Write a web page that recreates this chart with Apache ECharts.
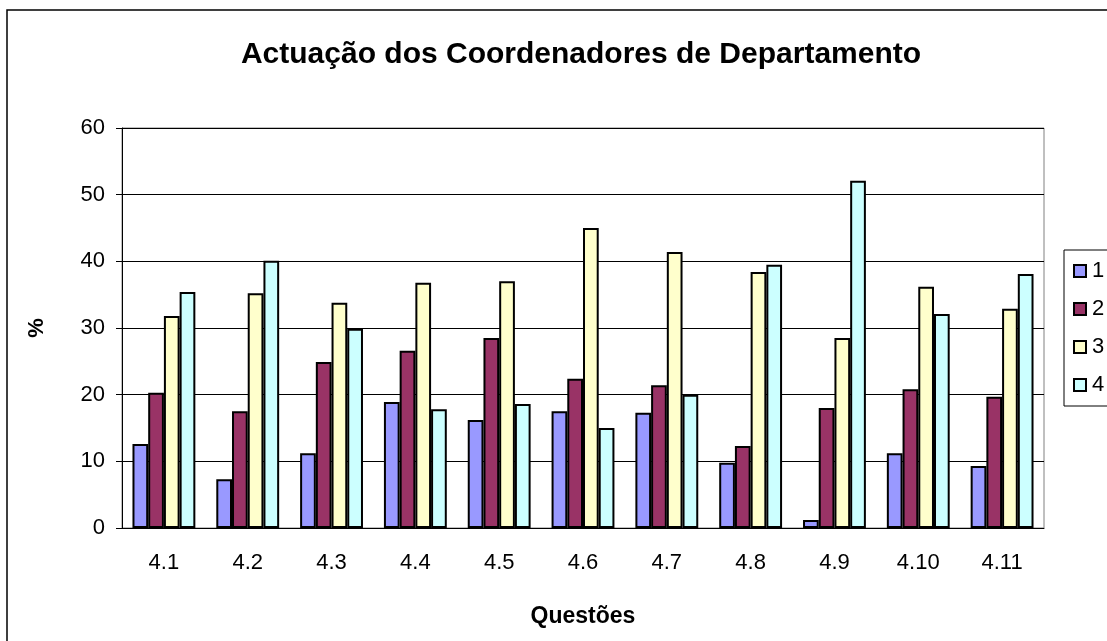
<!DOCTYPE html>
<html>
<head>
<meta charset="utf-8">
<script src="https://cdn.jsdelivr.net/npm/echarts@6/dist/echarts.min.js"></script>
<style>
  html, body { margin: 0; padding: 0; background: #fff; }
  #chart { width: 1107px; height: 641px; }
</style>
</head>
<body>
<div id="chart"></div>
<script>
  const categories = ['4.1', '4.2', '4.3', '4.4', '4.5', '4.6', '4.7', '4.8', '4.9', '4.10', '4.11']
  const serie1 = [12.6, 7.3, 11.2, 18.9, 16.2, 17.5, 17.3, 9.8, 1.2, 11.2, 9.3]
  const serie2 = [20.3, 17.5, 24.9, 26.6, 28.5, 22.4, 21.4, 12.3, 18.0, 20.8, 19.7]
  const serie3 = [31.8, 35.2, 33.8, 36.8, 37.0, 45.0, 41.4, 38.4, 28.5, 36.2, 32.9]
  const serie4 = [35.4, 40.1, 29.9, 17.8, 18.6, 15.0, 20.0, 39.5, 52.1, 32.1, 38.1]
  const seriesNames = ['1', '2', '3', '4']
  const colors = ['#9999FF', '#993366', '#FFFFCC', '#CCFFFF']

  const font = '"Liberation Sans", Arial, sans-serif'
  const chart = echarts.init(document.getElementById('chart'))

  const makeBar = (name, data, i) => ({
    name: name,
    type: 'bar',
    data: data,
    barGap: '0%',
    barCategoryGap: '25%',
    itemStyle: { color: colors[i], borderColor: '#000', borderWidth: 2 }
  })

  chart.setOption({
    animation: false,
    backgroundColor: '#fff',
    textStyle: { fontFamily: font },
    graphic: [{
      type: 'rect',
      shape: { x: 7, y: 10, width: 1300, height: 800 },
      style: { fill: 'none', stroke: '#000', lineWidth: 1.5 },
      silent: true
    }],
    title: {
      text: 'Actuação dos Coordenadores de Departamento',
      left: 576,
      textAlign: 'center',
      top: 35,
      textStyle: { fontSize: 30, fontWeight: 'bold', color: '#000', fontFamily: font }
    },
    legend: {
      orient: 'vertical',
      left: 1064,
      top: 250,
      data: seriesNames,
      icon: 'rect',
      itemWidth: 12,
      itemHeight: 12,
      itemGap: 16,
      padding: [10, 60, 10, 9],
      borderColor: '#000',
      borderWidth: 1,
      textStyle: { fontSize: 22, color: '#000', fontFamily: font, padding: [0, 0, 0, 1] }
    },
    grid: {
      left: 122,
      right: 63,
      top: 128,
      bottom: 113,
      show: true,
      borderColor: '#808080',
      borderWidth: 1
    },
    xAxis: {
      type: 'category',
      data: categories,
      name: 'Questões',
      nameLocation: 'middle',
      nameGap: 77,
      nameTextStyle: { fontSize: 23, fontWeight: 'bold', color: '#000', fontFamily: font },
      axisLine: { lineStyle: { color: '#000', width: 1 } },
      axisTick: { length: 7, lineStyle: { color: '#000' } },
      axisLabel: { fontSize: 22, color: '#000', margin: 24, fontFamily: font }
    },
    yAxis: {
      type: 'value',
      min: 0,
      max: 60,
      interval: 10,
      name: '%',
      nameLocation: 'middle',
      nameGap: 74,
      nameTextStyle: { fontSize: 22, fontWeight: 'bold', color: '#000', fontFamily: font },
      axisLine: { show: true, lineStyle: { color: '#000', width: 1 } },
      axisTick: { show: true, length: 6, lineStyle: { color: '#000' } },
      axisLabel: { fontSize: 22, color: '#000', margin: 17, fontFamily: font },
      splitLine: { lineStyle: { color: '#000', width: 1 } }
    },
    series: [
      makeBar(seriesNames[0], serie1, 0),
      makeBar(seriesNames[1], serie2, 1),
      makeBar(seriesNames[2], serie3, 2),
      makeBar(seriesNames[3], serie4, 3)
    ]
  })
</script>
</body>
</html>
